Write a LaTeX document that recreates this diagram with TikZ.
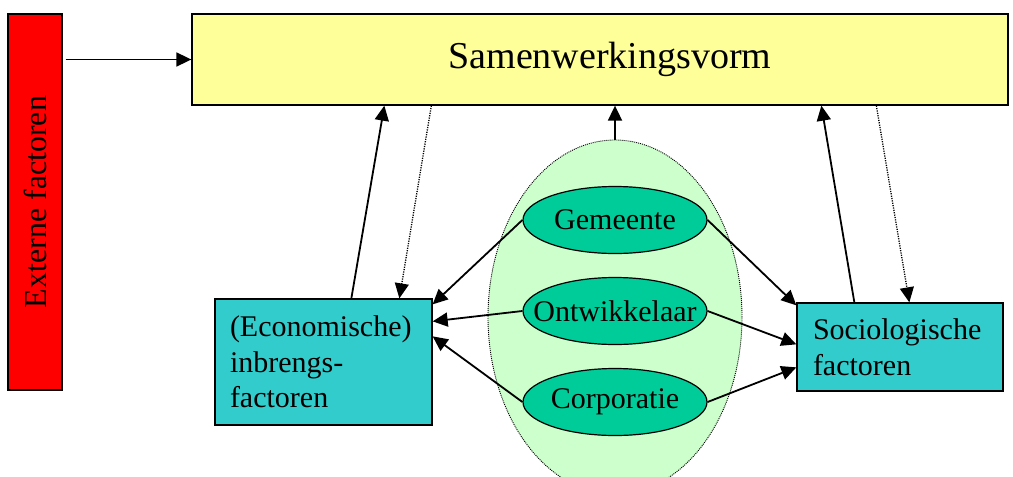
\documentclass[tikz,border=0pt]{standalone}
\usepackage{fontspec}
\setmainfont{Liberation Serif}
\usetikzlibrary{positioning,arrows.meta,calc,shapes.geometric}
\definecolor{figred}{HTML}{FF0000}
\definecolor{figyellow}{HTML}{FFFF99}
\definecolor{figteal}{HTML}{33CCCC}
\definecolor{figgreen}{HTML}{00CC99}
\definecolor{figpale}{HTML}{CCFFCC}
\tikzset{
  fig/.style={font=\fontsize{30}{35.5}\selectfont},
  box/.style={draw,line width=1.3pt,fill=figteal,align=left,inner sep=0pt},
  actor/.style={ellipse,draw,line width=1.2pt,fill=figgreen,minimum width=184pt,
                minimum height=67pt,inner sep=0pt},
  ln/.style={-{Triangle[length=15pt,width=14pt]},line width=1.8pt},
  lnd/.style={-{Triangle[length=15pt,width=14pt]},line width=1.3pt,dash pattern=on 1.2pt off 1.2pt},
}

\begin{document}
\begin{tikzpicture}[fig,x=1pt,y=-1pt,
  bar/.style={draw,line width=1.3pt,fill=figred,minimum width=54pt,minimum height=376pt,inner sep=0pt},
  top/.style={draw,line width=1.3pt,fill=figyellow,minimum width=816pt,minimum height=91pt,
              font=\fontsize{38}{44}\selectfont}]
\useasboundingbox (0,0) rectangle (1013,477);

\node[bar] (extf) at (35,202) {};
\node[rotate=90,font=\fontsize{32}{38}\selectfont] (extflbl) at (extf.center) {Externe factoren};
\node[top] (samen) at (600,59.5) {\hspace*{20pt}Samenwerkingsvorm};

\node[ellipse,draw,line width=0.9pt,dash pattern=on 1pt off 1pt,fill=figpale,minimum width=254pt,
      minimum height=354pt,inner sep=0pt] (group) at (615,317) {};
\node[actor] (gem) at (615,220) {\makebox[0pt]{Gemeente}};
\node[actor] (ontw) at (615,311) {\makebox[0pt]{Ontwikkelaar}};
\node[actor] (corp) at (615,402) {\makebox[0pt]{Corporatie}};

\node[box,minimum width=217pt,minimum height=126pt,text width=187pt] (econ) at (323.5,362)
  {(Economische)\\inbrengs-\\factoren};
\node[box,minimum width=206pt,minimum height=88pt,text width=174pt] (socio) at (900,347)
  {Sociologische\\factoren};

\draw[ln] ($(extf.east |- samen.west)+(3,0)$) -- (samen.west);
\draw[ln] (group.north) -- (group.north |- samen.south);

\draw[ln] ($(econ.north west)+(137,0)$) -- ($(samen.south west)+(193,0)$);
\draw[lnd] ($(samen.south west)+(240,0)$) -- ($(econ.north west)+(185,0)$);
\draw[ln] ($(socio.north west)+(58,0)$) -- ($(samen.south west)+(630,0)$);
\draw[lnd] ($(samen.south west)+(685,0)$) -- ($(socio.north west)+(113,0)$);

\draw[ln] (gem.west) -- ($(econ.north east)+(0,6)$);
\draw[ln] (ontw.west) -- ($(econ.north east)+(0,23)$);
\draw[ln] (corp.west) -- ($(econ.north east)+(0,38)$);
\draw[ln] (gem.east) -- ($(socio.north west)+(0,3)$);
\draw[ln] (ontw.east) -- ($(socio.north west)+(0,42)$);
\draw[ln] (corp.east) -- ($(socio.north west)+(0,65)$);

\end{tikzpicture}
\end{document}
